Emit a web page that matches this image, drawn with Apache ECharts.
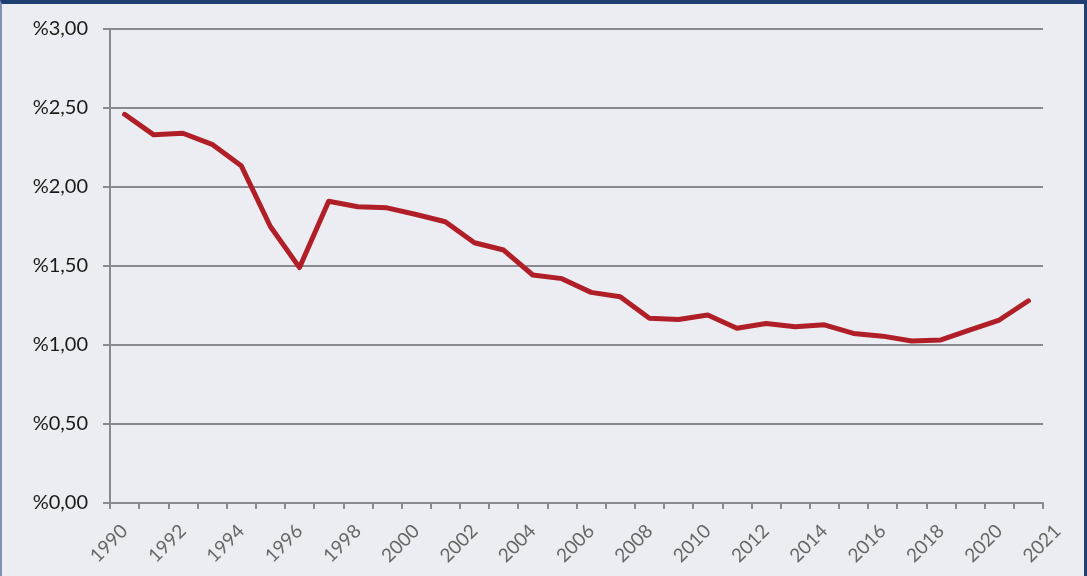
<!DOCTYPE html>
<html>
<head>
<meta charset="utf-8">
<script src="https://cdn.jsdelivr.net/npm/echarts@6/dist/echarts.min.js"></script>
<style>
  html, body { margin: 0; padding: 0; background: #ecedf2; }
  #chart { position: absolute; left: 0; top: 0; width: 1087px; height: 576px; }
  #frame {
    position: absolute; left: 0; top: 0; width: 1087px; height: 576px;
    box-sizing: border-box; pointer-events: none;
    border-top: 4px solid #1f3e72; border-left: 2px solid #7f90b2; border-right: 3px solid #1f3e72;
  }
</style>
</head>
<body>
<div id="chart"></div>
<div id="frame"></div>
<script>
// years of the series
var years = ['1990','1991','1992','1993','1994','1995','1996','1997','1998','1999',
  '2000','2001','2002','2003','2004','2005','2006','2007','2008','2009',
  '2010','2011','2012','2013','2014','2015','2016','2017','2018','2019',
  '2020','2021'];
// percentages
var values = [2.46, 2.33, 2.34, 2.27, 2.135, 1.75, 1.49, 1.91, 1.875, 1.868,
  1.826, 1.78, 1.647, 1.601, 1.443, 1.42, 1.333, 1.305, 1.169, 1.162,
  1.19, 1.106, 1.136, 1.116, 1.128, 1.073, 1.056, 1.025, 1.032, 1.095,
  1.158, 1.28];
// x tick labels as they appear (one slot per category, one extra at the end)
var tickLabels = ['1990','','1992','','1994','','1996','','1998','',
  '2000','','2002','','2004','','2006','','2008','',
  '2010','','2012','','2014','','2016','','2018','',
  '2020','','2021'];
var yTicks = [0, 0.5, 1, 1.5, 2, 2.5, 3];

var font = 'Lato, "Open Sans", sans-serif';
var gridCol = '#8a8a8e';

var chart = echarts.init(document.getElementById('chart'));
chart.setOption({
  animation: false,
  backgroundColor: 'transparent',
  grid: [
    { left: 110, right: 44, top: 29, bottom: 73 },
    { left: 110, right: 14.8, top: 29, bottom: 73 }
  ],
  xAxis: [{
    type: 'category',
    gridIndex: 0,
    data: years,
    boundaryGap: true,
    axisLine: { lineStyle: { color: gridCol, width: 2 } },
    axisTick: { show: true, interval: 0, length: 6, lineStyle: { color: gridCol, width: 2 } },
    axisLabel: { show: false },
    splitLine: { show: false }
  }, {
    type: 'category',
    gridIndex: 1,
    data: tickLabels,
    boundaryGap: true,
    axisLine: { show: false },
    axisTick: { show: false },
    axisLabel: {
      interval: 0, rotate: 45, margin: 25,
      color: '#666666', fontFamily: font, fontSize: 19
    },
    splitLine: { show: false }
  }],
  yAxis: [{
    type: 'value',
    gridIndex: 0,
    min: yTicks[0],
    max: yTicks[yTicks.length - 1],
    interval: 0.5,
    axisLine: { show: true, lineStyle: { color: gridCol, width: 2 } },
    axisTick: { show: true, length: 7, lineStyle: { color: gridCol, width: 2 } },
    axisLabel: {
      margin: 22, color: '#1a1a1a', fontFamily: font, fontSize: 20,
      formatter: function (v) { return '%' + v.toFixed(2).replace('.', ','); }
    },
    splitLine: { show: true, lineStyle: { color: gridCol, width: 2 } }
  }, {
    type: 'value',
    gridIndex: 1,
    show: false
  }],
  series: [{
    type: 'line',
    xAxisIndex: 0,
    yAxisIndex: 0,
    data: values,
    showSymbol: false,
    symbol: 'none',
    lineStyle: { color: '#b01e27', width: 5, cap: 'round', join: 'round' }
  }]
});
</script>
</body>
</html>
